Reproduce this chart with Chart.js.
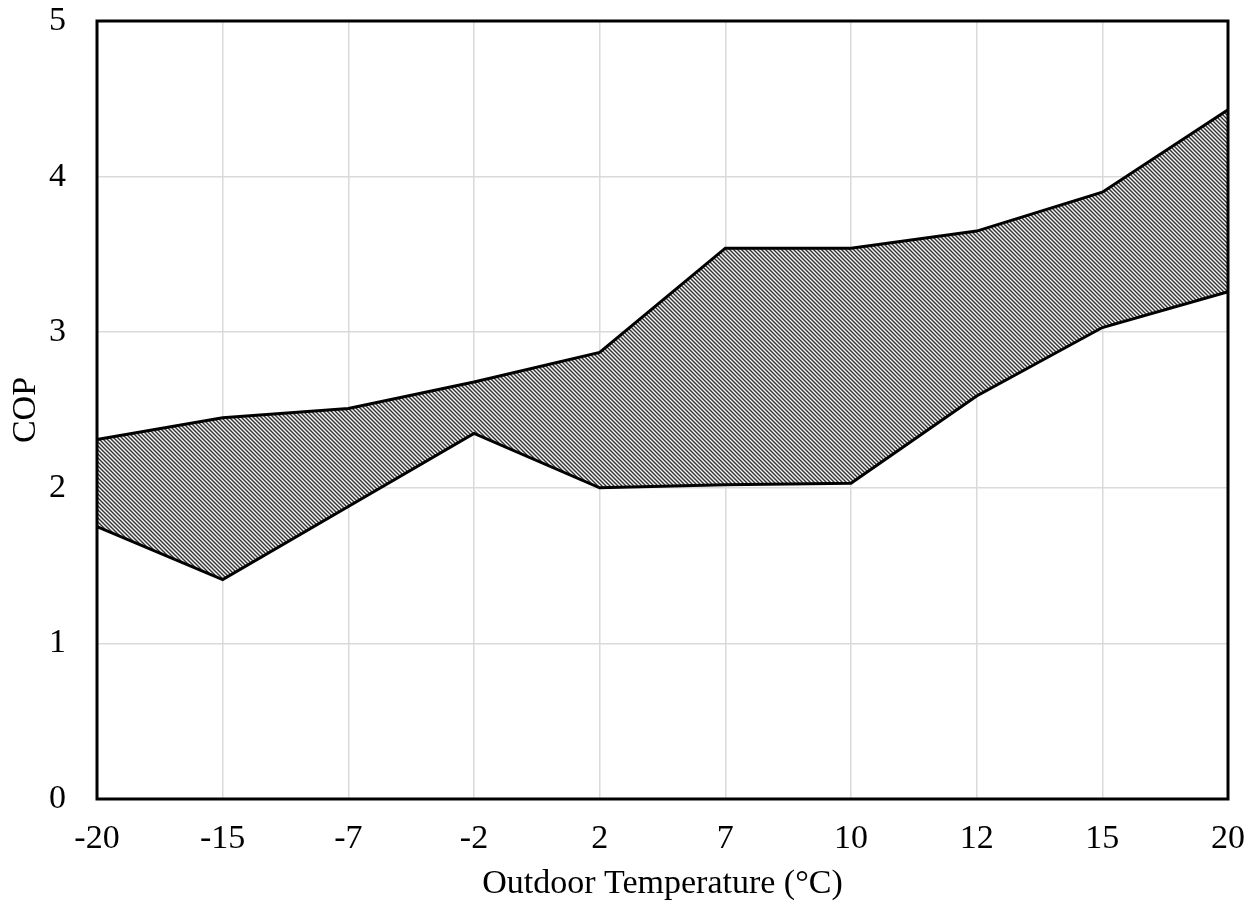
<!DOCTYPE html>
<html>
<head>
<meta charset="utf-8">
<script src="https://cdn.jsdelivr.net/npm/chart.js@4"></script>
<style>
  body { margin: 0; background: #fff; }
  #wrap { width: 1255px; height: 909px; position: relative; }
</style>
</head>
<body>
<div id="wrap"><canvas id="chart"></canvas></div>
<script>
const temps = ['-20', '-15', '-7', '-2', '2', '7', '10', '12', '15', '20'];
const copUpper = [2.31, 2.45, 2.51, 2.68, 2.87, 3.54, 3.54, 3.65, 3.90, 4.43];
const copLower = [1.75, 1.41, 1.88, 2.35, 2.00, 2.02, 2.03, 2.59, 3.03, 3.26];
const yTicks = [0, 1, 2, 3, 4, 5];

// diagonal hatch, lines running down to the right
function makeHatch() {
    const c = document.createElement('canvas');
    c.width = 4; c.height = 4;
    const g = c.getContext('2d');
    g.fillStyle = '#f5f5f5';
    g.fillRect(0, 0, 4, 4);
    g.strokeStyle = '#333';
    g.lineWidth = 1.4;
    g.beginPath();
    g.moveTo(-1, -1); g.lineTo(5, 5);
    g.moveTo(-1, 3); g.lineTo(1, 5);
    g.moveTo(3, -1); g.lineTo(5, 1);
    g.stroke();
    return g.createPattern(c, 'repeat');
}

const frame = {
    id: 'frame',
    afterDraw(chart) {
        const a = chart.chartArea;
        const c = chart.ctx;
        c.save();
        c.strokeStyle = '#000';
        c.lineWidth = 3;
        c.strokeRect(a.left, a.top, a.right - a.left, a.bottom - a.top);
        c.restore();
    }
};

const ctx = document.querySelector('#chart').getContext('2d');
const font = { family: "'Liberation Serif', 'Times New Roman', serif", size: 34 };

const myChart = new Chart(ctx, {
    type: 'line',
    data: {
        labels: temps,
        datasets: [
            {
                label: 'upper',
                data: copUpper,
                borderColor: '#000',
                borderWidth: 3,
                pointRadius: 0,
                tension: 0,
                fill: false
            },
            {
                label: 'lower',
                data: copLower,
                borderColor: '#000',
                borderWidth: 3,
                pointRadius: 0,
                tension: 0,
                fill: '-1',
                backgroundColor: makeHatch()
            }
        ]
    },
    options: {
        responsive: true,
        maintainAspectRatio: false,
        animation: false,
        layout: { padding: { top: 21, right: 27, left: 0, bottom: 0 } },
        plugins: {
            legend: { display: false },
            tooltip: { enabled: false }
        },
        scales: {
            x: {
                offset: false,
                grid: { color: '#dadada', lineWidth: 1.5, drawTicks: false },
                border: { display: false },
                ticks: { color: '#000', font: font, padding: 20, maxRotation: 0, autoSkip: false },
                title: {
                    display: true,
                    text: 'Outdoor Temperature (°C)',
                    color: '#000',
                    font: font,
                    padding: { top: 0, bottom: 5 }
                },
                afterFit(scale) {
                    scale.height = 110;
                    scale.paddingLeft = 0;
                    scale.paddingRight = 0;
                }
            },
            y: {
                min: 0,
                max: 5,
                afterBuildTicks(scale) { scale.ticks = yTicks.map(v => ({ value: v })); },
                grid: { color: '#dadada', lineWidth: 1.5, drawTicks: false },
                border: { display: false },
                ticks: { color: '#000', font: font, padding: 31 },
                title: {
                    display: true,
                    text: 'COP',
                    color: '#000',
                    font: font,
                    padding: { top: 6, bottom: 0 }
                },
                afterFit(scale) {
                    scale.width = 97;
                    scale.paddingTop = 0;
                    scale.paddingBottom = 0;
                }
            }
        }
    },
    plugins: [frame]
});
</script>
</body>
</html>
